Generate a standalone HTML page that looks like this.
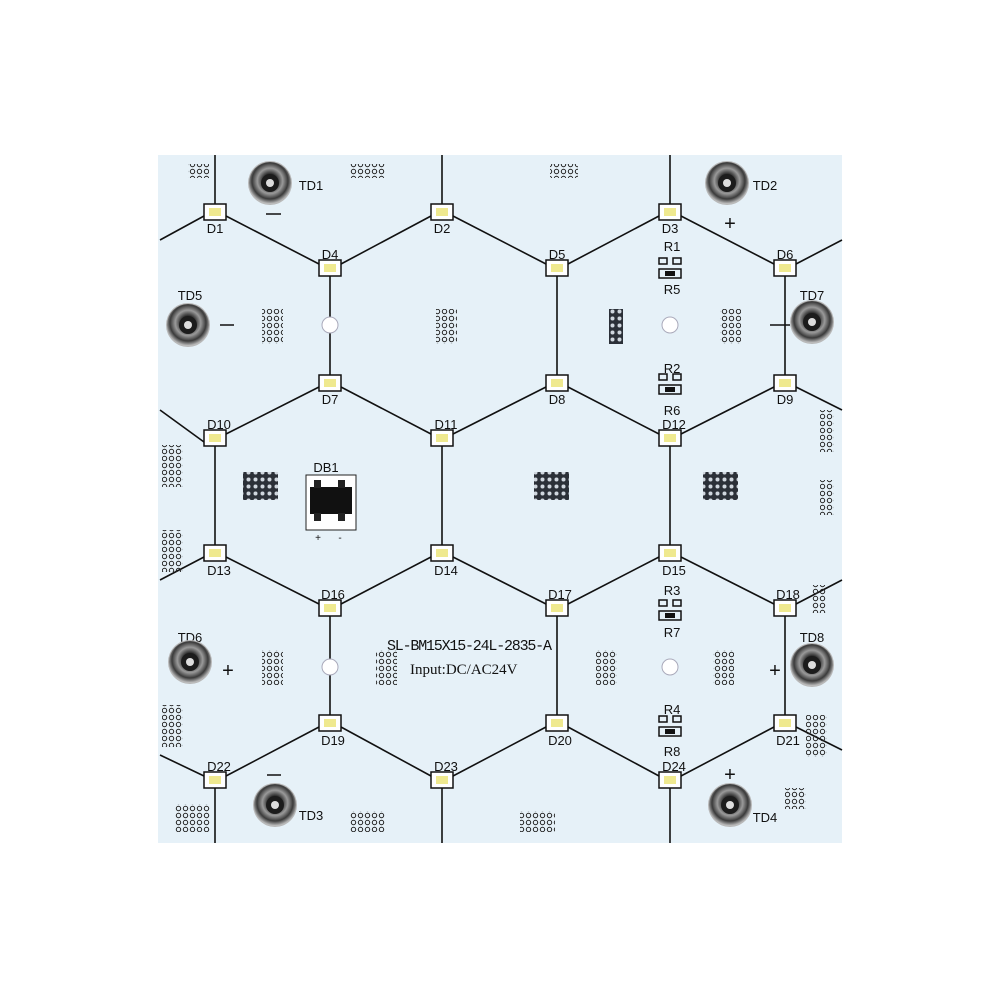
<!DOCTYPE html>
<html><head><meta charset="utf-8"><style>
html,body{margin:0;padding:0;background:#fff;}
svg{display:block}
text{font-family:"Liberation Sans",sans-serif;fill:#111;}
</style></head><body>
<svg width="1000" height="1000" viewBox="0 0 1000 1000" xmlns="http://www.w3.org/2000/svg">
<defs>
<radialGradient id="scr" cx="50%" cy="45%" r="55%">
<stop offset="0" stop-color="#e8e8e8"/><stop offset="0.3" stop-color="#2a2a2a"/><stop offset="0.55" stop-color="#9a9a9a"/><stop offset="0.78" stop-color="#3a3a3a"/><stop offset="1" stop-color="#c8c8c8"/>
</radialGradient>
<pattern id="dots" width="7" height="7" patternUnits="userSpaceOnUse"><circle cx="3.5" cy="3.5" r="2.2" fill="none" stroke="#222" stroke-width="1"/></pattern>
<pattern id="pad" width="7" height="7" patternUnits="userSpaceOnUse"><rect width="7" height="7" fill="#2b3038"/><circle cx="3.5" cy="3.5" r="2" fill="#cfd6de"/></pattern>
<g id="led"><rect x="-11" y="-8" width="22" height="16" fill="#fff" stroke="#111" stroke-width="1.5"/><rect x="-6" y="-4" width="12" height="8" fill="#efe98f"/></g>
<g id="td"><circle r="22" fill="#b8b8b8"/><circle r="21" fill="url(#scr)"/><circle r="9" fill="#1c1c1c"/><circle r="4" fill="#ddd"/></g>
<g id="res">
<path d="M-11 -10h8v6h-8zM3 -10h8v6h-8z" fill="none" stroke="#111" stroke-width="1.5"/>
<rect x="-11" y="1" width="22" height="9" fill="none" stroke="#111" stroke-width="1.5"/><rect x="-5" y="3" width="10" height="5" fill="#111"/></g>
</defs>
<rect x="158" y="155" width="684" height="688" fill="#e6f1f8"/>
<g stroke="#111" stroke-width="1.6" fill="none">
<path d="M215 155V204M442 155V204M670 155V204"/>
<path d="M330 276V317M330 333V375M557 276V375M785 276V375"/>
<path d="M215 446V545M442 446V545M670 446V545"/>
<path d="M330 616V659M330 675V715M557 616V715M785 616V715"/>
<path d="M215 788V843M442 788V843M670 788V843"/>
<path d="M160 240L204 216M226 216L319 264M341 264L431 216M453 216L546 264M568 264L659 216M681 216L774 264M796 264L842 240"/>
<path d="M160 410L204 442M226 434L319 387M341 387L431 434M453 434L546 387M568 387L659 434M681 434L774 387M796 387L842 410"/>
<path d="M160 580L204 557M226 557L319 604M341 604L431 557M453 557L546 604M568 604L659 557M681 557L774 604M796 604L842 580"/>
<path d="M160 755L204 776M226 776L319 727M341 727L431 776M453 776L546 727M568 727L659 776M681 776L774 727M796 727L842 750"/>
</g>
<g fill="#fff" stroke="#aab" stroke-width="1"><circle cx="330" cy="325" r="8"/><circle cx="670" cy="325" r="8"/><circle cx="330" cy="667" r="8"/><circle cx="670" cy="667" r="8"/></g>
<g>
<use href="#led" x="215" y="212"/><use href="#led" x="442" y="212"/><use href="#led" x="670" y="212"/>
<use href="#led" x="330" y="268"/><use href="#led" x="557" y="268"/><use href="#led" x="785" y="268"/>
<use href="#led" x="330" y="383"/><use href="#led" x="557" y="383"/><use href="#led" x="785" y="383"/>
<use href="#led" x="215" y="438"/><use href="#led" x="442" y="438"/><use href="#led" x="670" y="438"/>
<use href="#led" x="215" y="553"/><use href="#led" x="442" y="553"/><use href="#led" x="670" y="553"/>
<use href="#led" x="330" y="608"/><use href="#led" x="557" y="608"/><use href="#led" x="785" y="608"/>
<use href="#led" x="330" y="723"/><use href="#led" x="557" y="723"/><use href="#led" x="785" y="723"/>
<use href="#led" x="215" y="780"/><use href="#led" x="442" y="780"/><use href="#led" x="670" y="780"/>
</g>
<g font-size="13" text-anchor="middle">
<text x="215" y="233">D1</text><text x="442" y="233">D2</text><text x="670" y="233">D3</text>
<text x="330" y="259">D4</text><text x="557" y="259">D5</text><text x="785" y="259">D6</text>
<text x="330" y="404">D7</text><text x="557" y="404">D8</text><text x="785" y="404">D9</text>
<text x="219" y="429">D10</text><text x="446" y="429">D11</text><text x="674" y="429">D12</text>
<text x="219" y="575">D13</text><text x="446" y="575">D14</text><text x="674" y="575">D15</text>
<text x="333" y="599">D16</text><text x="560" y="599">D17</text><text x="788" y="599">D18</text>
<text x="333" y="745">D19</text><text x="560" y="745">D20</text><text x="788" y="745">D21</text>
<text x="219" y="771">D22</text><text x="446" y="771">D23</text><text x="674" y="771">D24</text>
<text x="311" y="190">TD1</text><text x="765" y="190">TD2</text><text x="190" y="300">TD5</text><text x="812" y="300">TD7</text>
<text x="190" y="642">TD6</text><text x="812" y="642">TD8</text><text x="311" y="820">TD3</text><text x="765" y="822">TD4</text>
<text x="672" y="251">R1</text><text x="672" y="294">R5</text><text x="672" y="373">R2</text><text x="672" y="415">R6</text>
<text x="672" y="595">R3</text><text x="672" y="637">R7</text><text x="672" y="714">R4</text><text x="672" y="756">R8</text>
<text x="326" y="472">DB1</text>
</g>
<g stroke="#111" stroke-width="1.6"><path d="M220 325H234M266 214H281M267 775H281M770 325H790"/></g>
<g font-size="20" text-anchor="middle"><text x="228" y="677">+</text><text x="775" y="677">+</text><text x="730" y="230">+</text><text x="730" y="781">+</text></g>
<use href="#td" x="270" y="183"/><use href="#td" x="727" y="183"/><use href="#td" x="188" y="325"/><use href="#td" x="812" y="322"/>
<use href="#td" x="190" y="662"/><use href="#td" x="812" y="665"/><use href="#td" x="275" y="805"/><use href="#td" x="730" y="805"/>
<use href="#res" x="670" y="268"/><use href="#res" x="670" y="384"/><use href="#res" x="670" y="610"/><use href="#res" x="670" y="726"/>
<rect x="306" y="475" width="50" height="55" fill="#fff" stroke="#222" stroke-width="1"/>
<rect x="310" y="487" width="42" height="27" fill="#111"/>
<rect x="314" y="480" width="7" height="8" fill="#222"/><rect x="338" y="480" width="7" height="8" fill="#222"/>
<rect x="314" y="513" width="7" height="8" fill="#222"/><rect x="338" y="513" width="7" height="8" fill="#222"/>
<text x="318" y="541" font-size="10" text-anchor="middle">+</text><text x="340" y="541" font-size="10" text-anchor="middle">-</text>
<rect x="243" y="472" width="35" height="28" fill="url(#pad)"/><rect x="534" y="472" width="35" height="28" fill="url(#pad)"/><rect x="703" y="472" width="35" height="28" fill="url(#pad)"/>
<rect x="609" y="309" width="14" height="35" fill="url(#pad)"/>
<g fill="url(#dots)">
<rect x="188" y="164" width="21" height="14"/><rect x="350" y="164" width="35" height="14"/><rect x="550" y="164" width="28" height="14"/>
<rect x="262" y="309" width="21" height="35"/><rect x="436" y="309" width="21" height="35"/><rect x="720" y="309" width="21" height="35"/>
<rect x="162" y="445" width="21" height="42"/><rect x="162" y="530" width="21" height="42"/><rect x="820" y="410" width="14" height="42"/><rect x="820" y="480" width="14" height="35"/>
<rect x="262" y="650" width="21" height="35"/><rect x="376" y="650" width="21" height="35"/><rect x="596" y="650" width="21" height="35"/><rect x="713" y="650" width="21" height="35"/>
<rect x="162" y="705" width="21" height="42"/><rect x="812" y="585" width="14" height="28"/><rect x="806" y="715" width="21" height="42"/>
<rect x="175" y="804" width="35" height="28"/><rect x="350" y="811" width="35" height="21"/><rect x="520" y="811" width="35" height="21"/><rect x="785" y="788" width="21" height="21"/>
</g>
<text x="387" y="650" font-size="15" style="font-family:'Liberation Mono',monospace" textLength="165">SL-BM15X15-24L-2835-A</text>
<text x="410" y="674" font-size="15" style="font-family:'Liberation Serif',serif">Input:DC/AC24V</text>
</svg>
</body></html>
